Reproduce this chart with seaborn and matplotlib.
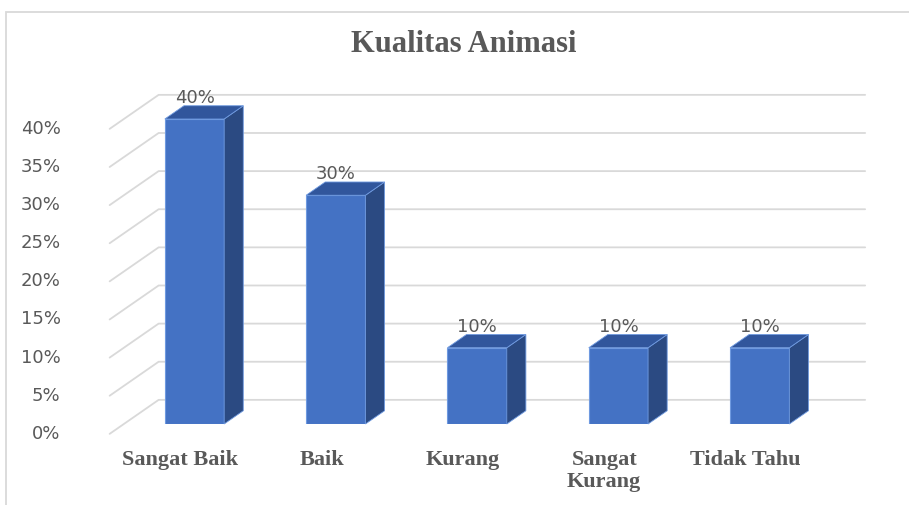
import matplotlib
matplotlib.use("Agg")
import matplotlib.pyplot as plt
import seaborn as sns
import pandas as pd
from matplotlib.patches import Polygon, Rectangle
from matplotlib.lines import Line2D
from matplotlib.transforms import IdentityTransform, offset_copy

# Data
categories = ["Sangat Baik", "Baik", "Kurang", "Sangat\nKurang", "Tidak Tahu"]
values = [40, 30, 10, 10, 10]
y_ticks = [0, 5, 10, 15, 20, 25, 30, 35, 40]
y_tick_labels = [f"{t}%" for t in y_ticks]
title = "Kualitas Animasi"

FRONT = "#4472C4"
SIDE = "#2B4A82"
TOP = "#31569C"
EDGE = "#6F9AE0"
GRID = "#D9D9D9"
TEXT = "#595959"

sns.set_theme(style="white")
plt.rcParams["font.family"] = ["DejaVu Sans"]

W, H = 909, 505
fig = plt.figure(figsize=(W / 100, H / 100), dpi=100)
# axes = the plane of the bar front faces
ax = fig.add_axes([123.85 / W, 81 / H, 706.5 / W, 305 / H])

df = pd.DataFrame({"kategori": categories, "nilai": values})
sns.barplot(data=df, x="kategori", y="nilai", color=FRONT, saturation=1,
            width=0.42, ax=ax, zorder=2, edgecolor=EDGE, linewidth=0.8)
ax.set_xlim(-0.5, len(categories) - 0.5)
ax.set_ylim(0, 40)
ax.set_axis_off()

# fake 3d: depth vector (pixels) from front floor edge to back wall
DX, DY = 49, 34
F_BAR = 0.29     # bar front face position inside the depth
BAR_D = 0.39     # bar depth as fraction of full depth
back = ((1 - F_BAR) * DX, (1 - F_BAR) * DY)
front = (-F_BAR * DX, -F_BAR * DY)
bd = (BAR_D * DX, BAR_D * DY)
ident = IdentityTransform()


def px(x, y):
    return ax.transData.transform((x, y))


x0, x1 = ax.get_xlim()
# back wall gridlines + side wall diagonals
for t, lab in zip(y_ticks, y_tick_labels):
    bl = px(x0, t) + back
    br = px(x1, t) + back
    fl = px(x0, t) + front
    fig.add_artist(Line2D([fl[0], bl[0], br[0]], [fl[1], bl[1], br[1]],
                          color=GRID, lw=1.3, transform=ident, zorder=0))
    fig.text(fl[0] - 49, fl[1], lab, transform=ident, ha="right",
             va="center", fontsize=13, color=TEXT)

# side and top faces of each bar
for p in ax.patches:
    bx0 = p.get_x()
    bx1 = bx0 + p.get_width()
    h = p.get_height()
    a = px(bx1, 0)
    b = px(bx1, h)
    c = px(bx0, h)
    side = [a, b, b + bd, a + bd]
    top = [c, b, b + bd, c + bd]
    ax.add_patch(Polygon(side, closed=True, facecolor=SIDE, edgecolor=EDGE,
                         lw=0.6, transform=ident, zorder=3, clip_on=False))
    ax.add_patch(Polygon(top, closed=True, facecolor=TOP, edgecolor=EDGE,
                         lw=0.6, transform=ident, zorder=3, clip_on=False))

# data labels
for i, v in enumerate(values):
    ax.text(i, v, f"{v}%", transform=offset_copy(ax.transData, fig, x=0, y=21, units="dots"),
            ha="center", va="center", fontsize=13, color=TEXT, clip_on=False)

# category labels on the front floor edge
for i, lab in enumerate(categories):
    ax.text(i, 0, lab, transform=offset_copy(ax.transData, fig, x=front[0], y=front[1] - 16, units="dots"),
            ha="center", va="top", fontsize=16, color=TEXT, family="Liberation Serif",
            fontweight="bold", linespacing=1.15, clip_on=False)

fig.text(464 / W, 1 - 45 / H, title, ha="center", va="center", fontsize=22,
         color=TEXT, family="Liberation Serif", fontweight="bold")

# chart area border (only top and left visible in the reference)
fig.add_artist(Rectangle((6 / W, -0.1), 2, (H - 12) / H + 0.1, transform=fig.transFigure,
                         fill=False, edgecolor=GRID, lw=1.3))

fig.savefig("out.png", dpi=100)
